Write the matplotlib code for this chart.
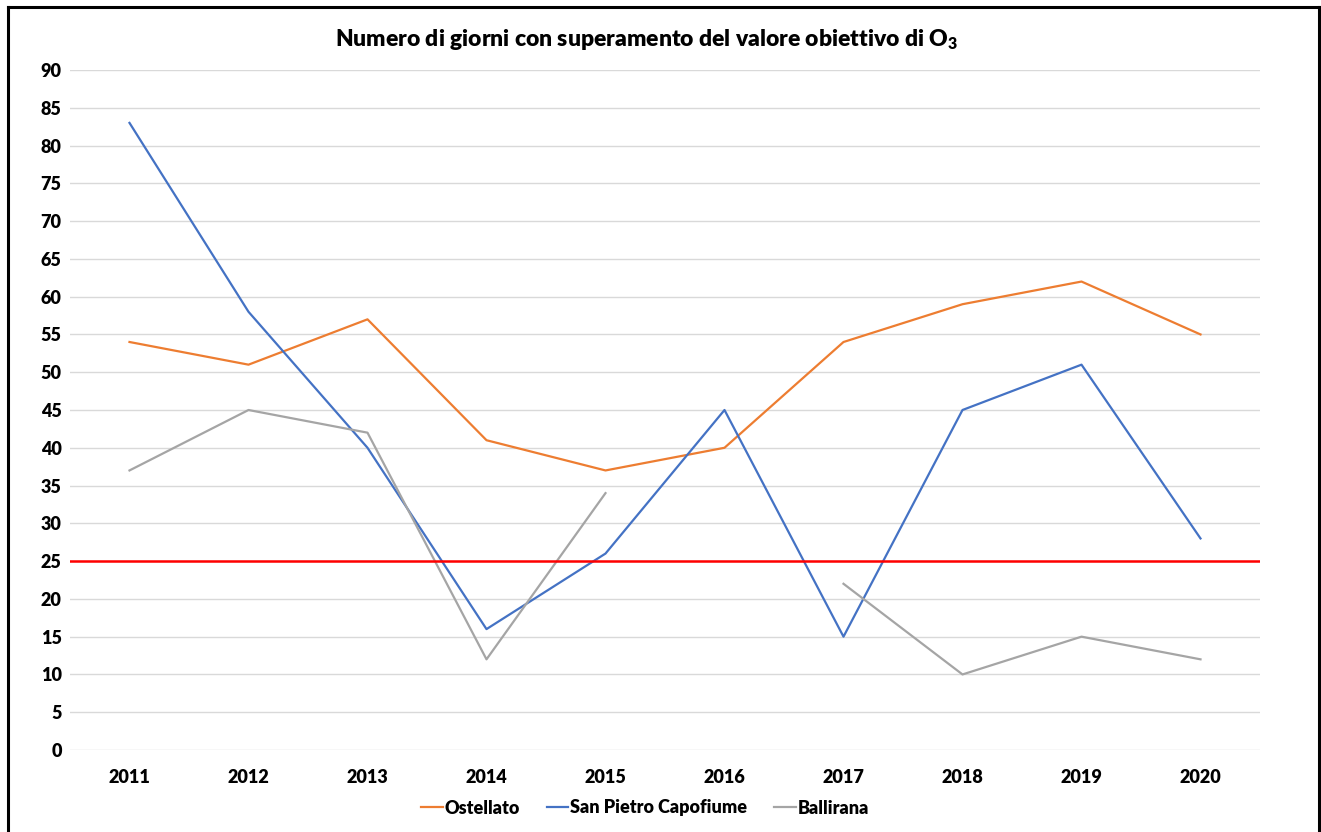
# Giorni con superamento del valore obiettivo di O3 per stazione
import numpy as np
import matplotlib.pyplot as plt
from matplotlib.lines import Line2D

plt.rcParams['font.family'] = ['Lato', 'DejaVu Sans']
plt.rcParams['font.weight'] = 'heavy'
plt.rcParams['mathtext.fontset'] = 'custom'
plt.rcParams['mathtext.rm'] = 'Lato:heavy'
plt.rcParams['mathtext.it'] = 'Lato:heavy'

anni = ['2011', '2012', '2013', '2014', '2015', '2016', '2017', '2018', '2019', '2020']
ostellato = [54, 51, 57, 41, 37, 40, 54, 59, 62, 55]
san_pietro = [83, 58, 40, 16, 26, 45, 15, 45, 51, 28]
ballirana = [37, 45, 42, 12, 34, np.nan, 22, 10, 15, 12]
soglia = 25

fig = plt.figure(figsize=(13.21, 8.32), dpi=100)
ax = fig.add_axes([70 / 1321, 1 - 750 / 832, 1190 / 1321, 680 / 832])

x = np.arange(len(anni))
ax.plot(x, ostellato, color='#ED7D31', lw=1.6, label='Ostellato')
ax.plot(x, san_pietro, color='#4472C4', lw=1.6, label='San Pietro Capofiume')
ax.plot(x, ballirana, color='#A5A5A5', lw=1.6, label='Ballirana')
ax.axhline(soglia, color='#FF0000', lw=1.8, zorder=3)

ax.set_xlim(-0.5, len(anni) - 0.5)
ax.set_ylim(0, 90)
ax.set_yticks(range(0, 91, 5))
ax.set_xticks(x)
ax.set_xticklabels(anni)
ax.grid(axis='y', color='#D9D9D9', lw=1)
ax.set_axisbelow(True)
for s in ax.spines.values():
    s.set_visible(False)
ax.tick_params(length=0, labelsize=13, colors='black')
ax.tick_params(axis='y', pad=6)
ax.tick_params(axis='x', pad=14)

fig.text(647 / 1321, 1 - 40 / 832,
         'Numero di giorni con superamento del valore obiettivo di O$_{3}$',
         ha='center', va='center', fontsize=16.5)

ax.legend(loc='center', bbox_to_anchor=(575 / 1190, -58 / 680), ncol=3,
          frameon=False, fontsize=13, handlelength=1.2, handletextpad=0.1,
          columnspacing=1.5)

# cornice della figura (senza lato inferiore)
bx0, bx1, by1 = 8 / 1321, 1319 / 1321, 1 - 7 / 832
for xs, ys in [([bx0, bx0], [0, by1]), ([bx0, bx1], [by1, by1]), ([bx1, bx1], [by1, 0])]:
    fig.add_artist(Line2D(xs, ys, color='black', lw=2.2, transform=fig.transFigure))

fig.savefig('out.png', dpi=100)
